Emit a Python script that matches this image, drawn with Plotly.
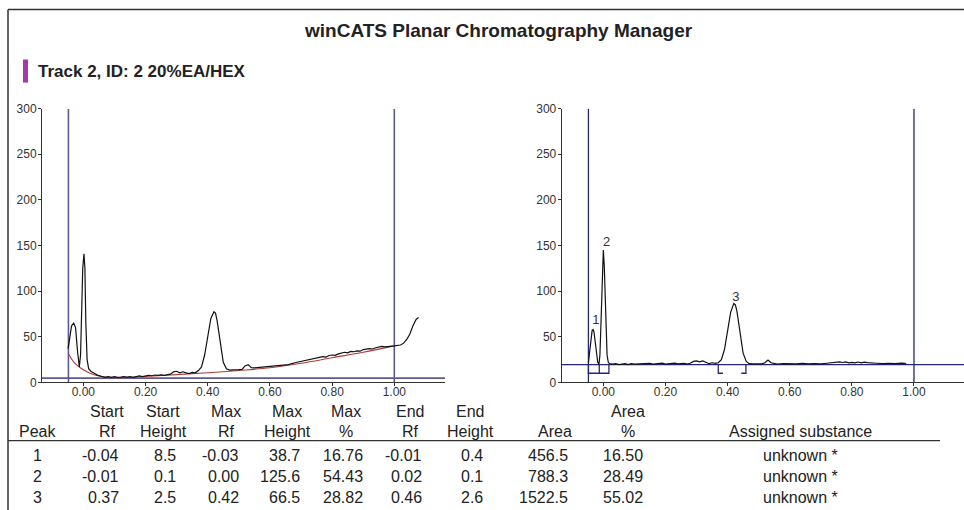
import plotly.graph_objects as go

# ---------------- data ----------------
raw_rf = [-0.049, -0.044, -0.038, -0.031, -0.025, -0.019, -0.013, -0.009, -0.005, -0.002, 0.002, 0.005, 0.008,
          0.012, 0.017, 0.025, 0.035, 0.045, 0.06, 0.07, 0.08, 0.09, 0.10, 0.11, 0.12, 0.13, 0.14, 0.15, 0.16,
          0.17, 0.18, 0.19, 0.20, 0.21, 0.22, 0.23, 0.24, 0.25, 0.26, 0.27, 0.28, 0.29, 0.30, 0.31, 0.32, 0.33,
          0.34, 0.35, 0.36, 0.37, 0.38, 0.39, 0.40, 0.41, 0.42, 0.425, 0.43, 0.44, 0.45, 0.46, 0.47, 0.48, 0.49,
          0.50, 0.51, 0.52, 0.53, 0.54, 0.55, 0.56, 0.57, 0.58, 0.60, 0.62, 0.64, 0.66, 0.68, 0.70, 0.72, 0.74,
          0.76, 0.77, 0.78, 0.79, 0.80, 0.81, 0.82, 0.83, 0.84, 0.85, 0.86, 0.87, 0.88, 0.89, 0.90, 0.92, 0.93,
          0.94, 0.95, 0.96, 0.97, 0.98, 1.00, 1.02, 1.03, 1.04, 1.05, 1.06, 1.07, 1.078]
raw_val = [37, 50, 62, 65, 60, 35, 17, 30, 80, 125, 141, 125, 65,
           25, 15, 12, 10, 8, 6.5, 5.5, 6.2, 5.5, 6.3, 5.6, 5.8, 6.4, 5.7, 6.3, 5.6,
           6.8, 7.2, 6.4, 7.0, 7.8, 7.3, 8.1, 7.6, 8.3, 7.6, 8.6, 9.0, 11.5, 12.2, 10.5, 11.6, 10.4,
           9.6, 11.0, 10.5, 13, 17, 30, 52, 70, 77.5, 76, 68, 45, 22, 15, 13.5, 13.8, 13.5,
           14, 14.2, 18, 19.5, 16, 15.8, 16.2, 15.8, 16.5, 17, 18, 19, 19.5, 21.5, 23, 24.5, 26,
           27, 28.2, 27.8, 29.5, 30, 29.6, 31.2, 31.8, 33, 32.4, 34, 33.6, 34.5, 34.2, 36, 37, 36.6,
           38, 38.8, 39.5, 38.9, 39.5, 40, 41, 43, 47, 53, 62, 69, 71]

base_rf = [-0.049, -0.03, -0.01, 0.01, 0.03, 0.05, 0.08, 0.12, 0.20, 0.30, 0.40, 0.50, 0.60, 0.70, 0.80, 0.90, 1.00]
base_val = [32, 22, 16, 12, 9, 7, 5.5, 5, 6.5, 8.5, 10.5, 13, 16, 21, 27, 33, 40]

corr_rf = [-0.048, -0.044, -0.040, -0.036, -0.033, -0.030, -0.026, -0.022, -0.018, -0.014, -0.011, -0.008,
           -0.005, -0.002, 0.000, 0.003, 0.006, 0.009, 0.012, 0.016, 0.02, 0.03, 0.04, 0.05, 0.06, 0.07, 0.08,
           0.09, 0.10, 0.12, 0.14, 0.15, 0.16, 0.18, 0.19, 0.20, 0.22, 0.23, 0.24, 0.26, 0.27, 0.28, 0.29, 0.30,
           0.31, 0.32, 0.33, 0.34, 0.35, 0.36, 0.37, 0.38, 0.39, 0.40, 0.41, 0.42, 0.425, 0.43, 0.44, 0.45, 0.46,
           0.47, 0.48, 0.49, 0.50, 0.51, 0.52, 0.53, 0.54, 0.55, 0.56, 0.58, 0.60, 0.62, 0.64, 0.66, 0.68, 0.70,
           0.72, 0.74, 0.76, 0.77, 0.78, 0.79, 0.80, 0.81, 0.82, 0.83, 0.84, 0.85, 0.86, 0.88, 0.90, 0.92, 0.94,
           0.96, 0.975]
corr_val = [22, 35, 48, 57, 58, 55, 44, 30, 22, 20, 30, 60,
            100, 135, 145, 128, 88, 50, 30, 22, 20.5, 20, 20.5, 19.5, 20, 20.5, 19.5,
            20.5, 20, 20.3, 20, 20.8, 20, 20.5, 21, 20, 20.5, 21, 20.3, 20.8, 20, 21, 23, 23.5,
            22.5, 23.5, 22, 20.5, 21.5, 20.8, 21.5, 25, 36, 56, 77, 86.5, 85, 78, 55, 32, 23,
            20.5, 20.3, 20.5, 20, 20.3, 21.5, 24.5, 21.5, 20.5, 20, 20.5, 20, 20.3, 20.8, 20.2, 20.5, 20.2,
            21, 21.5, 22.5, 21.8, 22.5, 21.5, 22, 21.3, 22.3, 21.5, 22.2, 21.6, 21.2, 21, 20.6, 21, 20.5,
            21, 20.5]

left_hline = 4.7
right_hline = 19.5
track_bounds = [-0.048, 1.00]

peak_labels = ["1", "2", "3"]
peak_label_rf = [-0.024, 0.011, 0.427]
peak_label_val = [68, 153, 93]
peak_start = [-0.048, -0.013, 0.37]
peak_end = [-0.013, 0.018, 0.459]
bracket_low = 10

x_ticks = [0.0, 0.2, 0.4, 0.6, 0.8, 1.0]
x_tick_text = ["0.00", "0.20", "0.40", "0.60", "0.80", "1.00"]
y_ticks = [0, 50, 100, 150, 200, 250, 300]

header1 = ["", "Start", "Start", "Max", "Max", "Max", "End", "End", "", "Area", ""]
header2 = ["Peak", "Rf", "Height", "Rf", "Height", "%", "Rf", "Height", "Area", "%", "Assigned substance"]
rows = [
    ["1", "-0.04", "8.5", "-0.03", "38.7", "16.76", "-0.01", "0.4", "456.5", "16.50", "unknown *"],
    ["2", "-0.01", "0.1", "0.00", "125.6", "54.43", "0.02", "0.1", "788.3", "28.49", "unknown *"],
    ["3", "0.37", "2.5", "0.42", "66.5", "28.82", "0.46", "2.6", "1522.5", "55.02", "unknown *"],
]

title = "winCATS Planar Chromatography Manager"
track_title = "Track 2, ID: 2 20%EA/HEX"

# ---------------- layout helpers ----------------
W, H = 964, 510
def px(x):
    return x / W
def py(y):
    # target pixel row -> paper fraction (small vertical correction for the capture)
    yl = (y - 7.6) / 0.97
    return 1 - yl / H

FONT = "Liberation Sans, Arial, sans-serif"
LEFT_LINE = "#5b5b92"
RIGHT_LINE = "#262678"

fig = go.Figure()

# left chart
fig.add_trace(go.Scatter(x=[-0.133, 1.163], y=[left_hline, left_hline], mode="lines",
                         line=dict(color=LEFT_LINE, width=1.6), xaxis="x", yaxis="y", hoverinfo="skip"))
for b in track_bounds:
    fig.add_trace(go.Scatter(x=[b, b], y=[0, 300], mode="lines", line=dict(color=LEFT_LINE, width=1.6),
                             xaxis="x", yaxis="y", hoverinfo="skip"))
fig.add_trace(go.Scatter(x=base_rf, y=base_val, mode="lines", line=dict(color="#b03a3a", width=1.1, shape="spline"),
                         xaxis="x", yaxis="y"))
fig.add_trace(go.Scatter(x=raw_rf, y=raw_val, mode="lines", line=dict(color="#111111", width=1.2),
                         xaxis="x", yaxis="y"))

# right chart
fig.add_trace(go.Scatter(x=[-0.134, 1.161], y=[right_hline, right_hline], mode="lines",
                         line=dict(color=RIGHT_LINE, width=1.3), xaxis="x2", yaxis="y2", hoverinfo="skip"))
for b in track_bounds:
    fig.add_trace(go.Scatter(x=[b, b], y=[0, 300], mode="lines", line=dict(color=RIGHT_LINE, width=1.3),
                             xaxis="x2", yaxis="y2", hoverinfo="skip"))
bx = [peak_start[0], peak_start[0], peak_end[1], peak_end[1], None, peak_end[0], peak_end[0]]
by = [right_hline, bracket_low, bracket_low, right_hline, None, bracket_low, right_hline]
fig.add_trace(go.Scatter(x=bx, y=by, mode="lines", line=dict(color=RIGHT_LINE, width=1.3),
                         xaxis="x2", yaxis="y2", hoverinfo="skip"))
s3, e3 = peak_start[2], peak_end[2]
bx3 = [s3 + 0.015, s3, s3, None, e3, e3, e3 - 0.015]
by3 = [bracket_low, bracket_low, right_hline, None, right_hline, bracket_low, bracket_low]
fig.add_trace(go.Scatter(x=bx3, y=by3, mode="lines", line=dict(color=RIGHT_LINE, width=1.3),
                         xaxis="x2", yaxis="y2", hoverinfo="skip"))
fig.add_trace(go.Scatter(x=corr_rf, y=corr_val, mode="lines", line=dict(color="#111111", width=1.2),
                         xaxis="x2", yaxis="y2"))
fig.add_trace(go.Scatter(x=peak_label_rf, y=peak_label_val, mode="text", text=peak_labels,
                         textfont=dict(family=FONT, size=13, color="#333"), xaxis="x2", yaxis="y2"))

ydom = [py(382), py(109)]
axis_common = dict(showgrid=False, zeroline=False, showline=True, linecolor="#333", linewidth=1,
                   ticks="outside", ticklen=3, tickcolor="#333", tickfont=dict(family=FONT, size=12, color="#333"))
fig.update_layout(
    width=W, height=H, margin=dict(l=0, r=0, t=0, b=0),
    paper_bgcolor="white", plot_bgcolor="white", showlegend=False,
    xaxis=dict(domain=[px(42), px(445)], range=[-0.133, 1.163], anchor="y", ticklabelstandoff=-5,
               tickvals=x_ticks, ticktext=x_tick_text, **axis_common),
    yaxis=dict(domain=ydom, range=[0, 300], anchor="x", tickvals=y_ticks, ticklabelstandoff=-1, **axis_common),
    xaxis2=dict(domain=[px(561.7), 1.0], range=[-0.134, 1.161], anchor="y2", ticklabelstandoff=-5,
                tickvals=x_ticks, ticktext=x_tick_text, **axis_common),
    yaxis2=dict(domain=ydom, range=[0, 300], anchor="x2", tickvals=y_ticks, ticklabelstandoff=-1, **axis_common),
)

shapes = []
shapes.append(dict(type="line", xref="paper", yref="paper", x0=px(8), x1=1.0, y0=py(10), y1=py(10),
                   line=dict(color="#333", width=1.5)))
shapes.append(dict(type="line", xref="paper", yref="paper", x0=px(8), x1=px(8), y0=py(10), y1=-0.02,
                   line=dict(color="#333", width=1.5)))
shapes.append(dict(type="rect", xref="paper", yref="paper", x0=px(23), x1=px(28), y0=py(83), y1=py(60),
                   fillcolor="#a43aa8", line=dict(width=0)))
shapes.append(dict(type="line", xref="paper", yref="paper", x0=px(8), x1=px(940), y0=py(440), y1=py(440),
                   line=dict(color="#333", width=1.3)))
fig.update_layout(shapes=shapes)

ann = []
ann.append(dict(text="<b>" + title + "</b>", x=px(498), y=py(31), xref="paper", yref="paper", showarrow=False,
                xanchor="center", yanchor="middle", font=dict(family=FONT, size=19, color="#222")))
ann.append(dict(text="<b>" + track_title + "</b>", x=px(36), y=py(72), xref="paper", yref="paper",
                showarrow=False, xanchor="left", yanchor="middle", font=dict(family=FONT, size=17, color="#222")))

TF = 16
col_x = [37, 121, 178, 241, 302, 365, 424, 485, 570, 645, 800]
col_anchor = ["center", "right", "right", "right", "right", "right", "right", "right", "right", "right", "center"]
head_x = [37, 107, 163, 226, 287, 346, 410, 470, 555, 628, 800]
for i in range(len(header2)):
    if header1[i]:
        ann.append(dict(text=header1[i], x=px(head_x[i]), y=py(411), xref="paper", yref="paper", showarrow=False,
                        xanchor="center", yanchor="middle", font=dict(family=FONT, size=TF, color="#222")))
    ann.append(dict(text=header2[i], x=px(head_x[i]), y=py(431), xref="paper", yref="paper", showarrow=False,
                    xanchor="center", yanchor="middle", font=dict(family=FONT, size=TF, color="#222")))
row_y = [455, 476, 497]
for r, row in enumerate(rows):
    for i, cell in enumerate(row):
        ann.append(dict(text=cell, x=px(col_x[i]), y=py(row_y[r]), xref="paper", yref="paper", showarrow=False,
                        xanchor=col_anchor[i], yanchor="middle", font=dict(family=FONT, size=TF, color="#222")))
fig.update_layout(annotations=ann)

post = (
    "document.documentElement.style.margin='0';document.documentElement.style.overflow='hidden';"
    "document.body.style.margin='0';document.body.style.overflow='hidden';"
    "var d=document.getElementById('{plot_id}');"
    "d.style.position='fixed';d.style.left='0px';d.style.top='0px';"
)
fig.write_html("out.html", config={"displayModeBar": False}, post_script=post)
